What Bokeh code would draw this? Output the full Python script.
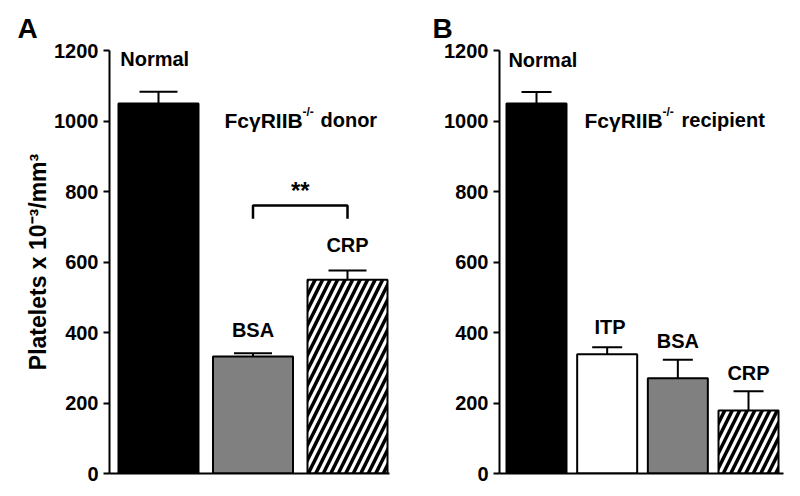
from bokeh.plotting import figure
from bokeh.layouts import row
from bokeh.models import ColumnDataSource, Range1d, FixedTicker, Whisker, TeeHead
from bokeh.core.properties import value
from bokeh.embed import file_html
from bokeh.resources import INLINE

# ---------------- data ----------------
a_categories = ["Normal", "BSA", "CRP"]
a_means = [1050, 332, 550]
a_errors = [33, 9, 26]
a_colors = ["black", "#808080", "white"]
a_hatch = [" ", " ", "/"]
a_group = "donor"

b_categories = ["Normal", "ITP", "BSA", "CRP"]
b_means = [1050, 338, 270, 179]
b_errors = [32, 20, 53, 54]
b_colors = ["black", "white", "#808080", "white"]
b_hatch = [" ", " ", " ", "/"]
b_group = "recipient"

y_ticks = [0, 200, 400, 600, 800, 1000, 1200]
sig_pair = (1, 2)      # BSA vs CRP in panel A
sig_text = "**"
y_title = "Platelets x 10\u207b\u00b3/mm\u00b3"

# ---------------- layout / style ----------------
FONT = "Liberation Sans"
FIG_H = 496
TOP, BOT = 50, 23
FRAME_H = FIG_H - TOP - BOT
YMAX = 1200
Y_PER_PX = YMAX / FRAME_H

# label positions (data units)
a_label_x = [-0.04, 1.0, 2.0]
a_label_y = [1175, 406, 647]
b_label_x = [0.09, 1.04, 2.0, 3.0]
b_label_y = [1172, 417, 377, 284]


def make_panel(width, letter, letter_off, cats, means, errs, colors, hatch,
               lab_x, lab_y, left, right_border, x_start, x_end, bar_w, tee):
    p = figure(width=width, height=FIG_H, output_backend="svg",
               toolbar_location=None,
               x_range=Range1d(x_start, x_end), y_range=Range1d(0, YMAX),
               min_border_left=left, min_border_right=right_border,
               min_border_top=TOP, min_border_bottom=BOT)
    p.outline_line_color = None
    p.grid.visible = False
    p.background_fill_color = "white"
    p.border_fill_color = "white"

    p.title.text = letter
    p.title.align = "left"
    p.title.offset = letter_off
    p.title.text_font = FONT
    p.title.text_font_size = "28px"
    p.title.text_font_style = "bold"
    p.title.text_color = "black"
    p.title.standoff = 13

    idx = list(range(len(cats)))
    src = ColumnDataSource(dict(
        x=idx, top=means, color=colors, hatch=hatch,
        upper=[m + e for m, e in zip(means, errs)], lower=means,
        name=cats, lx=lab_x, ly=lab_y))

    p.vbar(x="x", top="top", width=bar_w, source=src, fill_color="color",
           line_color="black", line_width=2, hatch_pattern="hatch",
           hatch_color="black", hatch_scale=15, hatch_weight=3.5)

    w = Whisker(source=src, base="x", upper="upper", lower="lower",
                dimension="height", line_width=2, line_color="black",
                upper_head=TeeHead(size=tee, line_width=2, line_color="black"),
                lower_head=None)
    p.add_layout(w)

    p.text(x="lx", y="ly", text="name", source=src,
           text_font=value(FONT), text_font_size="20px", text_font_style="bold",
           text_align="center", text_baseline="alphabetic", text_color="black")

    # axes
    p.yaxis.ticker = FixedTicker(ticks=y_ticks)
    p.yaxis.minor_tick_line_color = None
    p.yaxis.major_tick_in = 0
    p.yaxis.major_tick_out = 6
    p.yaxis.major_label_standoff = 5
    p.yaxis.major_label_text_font = FONT
    p.yaxis.major_label_text_font_size = "20px"
    p.yaxis.major_label_text_font_style = "bold"
    p.yaxis.major_label_text_color = "black"
    for ax in (p.xaxis, p.yaxis):
        ax.axis_line_width = 2
        ax.axis_line_color = "black"
        ax.major_tick_line_width = 2
        ax.major_tick_line_color = "black"
    p.xaxis.ticker = FixedTicker(ticks=[])
    p.xaxis.minor_tick_line_color = None
    p.xaxis.major_tick_out = 0
    p.xaxis.major_tick_in = 0
    p.xaxis.major_label_text_font_size = "0px"
    return p


def txt(p, x, y, text, size, angle=0):
    p.text(x=[x], y=[y], text=[text], text_font=value(FONT),
           text_font_size=size, text_font_style="bold", text_color="black",
           text_align="left", text_baseline="alphabetic",
           angle=angle, angle_units="deg")


# ---------- panel A ----------
A_W = 400
A_LEFT, A_RB = 109, 11
A_PPU = 94.5
A_X0 = -0.5185
A_X1 = A_X0 + (A_W - A_LEFT - A_RB) / A_PPU
pA = make_panel(A_W, "A", 17 - 109, a_categories, a_means, a_errors, a_colors,
                a_hatch, a_label_x, a_label_y, A_LEFT, A_RB, A_X0, A_X1,
                80 / A_PPU, 38)
pA.yaxis.axis_label = y_title
pA.yaxis.axis_label_text_font = FONT
pA.yaxis.axis_label_text_font_size = "23px"
pA.yaxis.axis_label_text_font_style = "bold"
pA.yaxis.axis_label_text_color = "black"
pA.yaxis.axis_label_standoff = 0

# significance bracket
i0, i1 = sig_pair
lvl = max(a_means[i] + a_errors[i] for i in sig_pair) + 184
drop = 37
pA.line(x=[i0, i0, i1, i1], y=[lvl - drop, lvl, lvl, lvl - drop],
        line_width=2.5, line_color="black")
pA.text(x=[(i0 + i1) / 2], y=[lvl + 42], text=[sig_text],
        text_font=value(FONT), text_font_size="24px", text_font_style="bold",
        text_align="center", text_baseline="alphabetic", text_color="black")

# group label A
gy = 1002
gx = (224 - 158) / A_PPU
txt(pA, gx, gy, "Fc\u03b3RIIB", "21px")
txt(pA, gx + 78 / A_PPU, gy + 8 * Y_PER_PX, "-/-", "12px")
txt(pA, (320 - 158) / A_PPU, gy, a_group, "20px")

# ---------- panel B ----------
B_W = 400
B_LEFT, B_RB = 99, 17
B_PPU = 70.67
B_X0 = -0.5236
B_X1 = B_X0 + (B_W - B_LEFT - B_RB) / B_PPU
pB = make_panel(B_W, "B", 432 - 499, b_categories, b_means, b_errors, b_colors,
                b_hatch, b_label_x, b_label_y, B_LEFT, B_RB, B_X0, B_X1,
                60 / B_PPU, 30)

gxb = (584 - 536) / B_PPU
txt(pB, gxb, gy, "Fc\u03b3RIIB", "21px")
txt(pB, gxb + 78 / B_PPU, gy + 8 * Y_PER_PX, "-/-", "12px")
txt(pB, (681 - 536) / B_PPU, gy, b_group, "20px")

layout = row(pA, pB, spacing=0)
open("out.html", "w").write(file_html(layout, INLINE))
